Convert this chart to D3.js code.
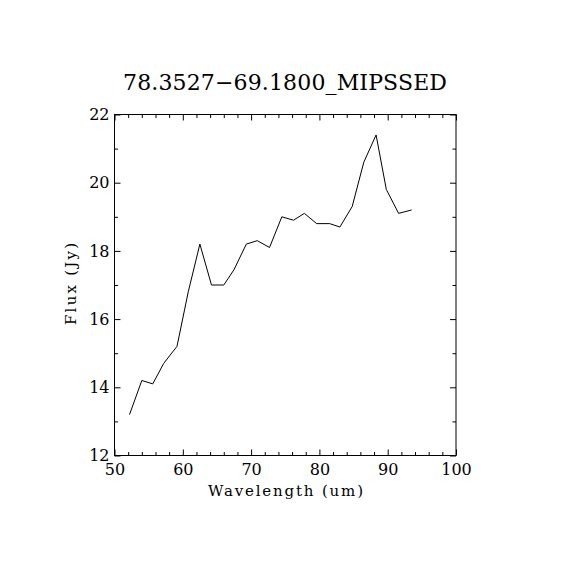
<!DOCTYPE html>
<html>
<head>
<meta charset="utf-8">
<script src="https://cdn.jsdelivr.net/npm/d3@7"></script>
<style>
  body { margin: 0; background: white; }
  text { font-family: "DejaVu Serif", "Liberation Serif", serif; fill: black; }
</style>
</head>
<body>
<div id="chart"></div>
<script>
// Data
const wavelength = [52.2, 54.0, 55.6, 57.2, 59.15, 60.8, 62.5, 64.2, 66.0, 67.5,
    69.3, 70.9, 72.7, 74.5, 76.2, 77.8, 79.6, 81.5, 83.0, 84.8,
    86.5, 88.3, 89.8, 91.6, 93.5];
const flux = [13.2, 14.2, 14.1, 14.7, 15.2, 16.8, 18.2, 17.0, 17.0, 17.45,
    18.2, 18.3, 18.1, 19.0, 18.9, 19.1, 18.8, 18.8, 18.7, 19.3,
    20.6, 21.4, 19.8, 19.1, 19.2];

const xMajor = [50, 60, 70, 80, 90, 100];
const xMinor = [52, 54, 56, 58, 62, 64, 66, 68, 72, 74, 76, 78, 82, 84, 86, 88, 92, 94, 96, 98];
const yMajor = [12, 14, 16, 18, 20, 22];
const yMinor = [13, 15, 17, 19, 21];

const titleText = "78.3527\u221269.1800_MIPSSED";
const xLabel = "Wavelength (um)";
const yLabel = "Flux (Jy)";

let width = 570,
    height = 570;

let margin = { top: 114.5, left: 114.5, right: 114.5, bottom: 114.5 };

let svg = d3.select('#chart')
    .append('svg')
    .attr('width', width)
    .attr('height', height);

let xScale = d3.scaleLinear()
    .domain([50, 100])
    .range([margin.left, width - margin.right + 0.5]);

let yScale = d3.scaleLinear()
    .domain([12, 22])
    .range([height - margin.bottom, margin.top]);

const x0 = xScale.range()[0], x1 = xScale.range()[1];
const y0 = yScale.range()[0], y1 = yScale.range()[1];

// helper to draw one axis, ticks pointing inward
function drawAxis(axis, transform, labels) {
    const g = svg.append('g')
        .attr('transform', transform)
        .call(axis);
    g.select('.domain').remove();
    g.selectAll('line').attr('stroke', 'black').attr('stroke-width', 1);
    g.selectAll('text')
        .style('font-family', '"DejaVu Serif", "Liberation Serif", serif')
        .style('font-size', '16px')
        .attr('fill', 'black');
    if (!labels) g.selectAll('text').remove();
    return g;
}

// bottom
drawAxis(d3.axisBottom(xScale).tickValues(xMajor).tickSize(-6).tickPadding(8.5).tickFormat(d3.format('d')),
    `translate(0,${y0})`, true);
drawAxis(d3.axisBottom(xScale).tickValues(xMinor).tickSize(-3.5).tickFormat(''),
    `translate(0,${y0})`, false);
// top
drawAxis(d3.axisTop(xScale).tickValues(xMajor).tickSize(-6),
    `translate(0,${y1})`, false);
drawAxis(d3.axisTop(xScale).tickValues(xMinor).tickSize(-3.5),
    `translate(0,${y1})`, false);
// left
drawAxis(d3.axisLeft(yScale).tickValues(yMajor).tickSize(-6).tickPadding(5).tickFormat(d3.format('d')),
    `translate(${x0},0)`, true);
drawAxis(d3.axisLeft(yScale).tickValues(yMinor).tickSize(-3.5).tickFormat(''),
    `translate(${x0},0)`, false);
// right
drawAxis(d3.axisRight(yScale).tickValues(yMajor).tickSize(-6),
    `translate(${x1},0)`, false);
drawAxis(d3.axisRight(yScale).tickValues(yMinor).tickSize(-3.5),
    `translate(${x1},0)`, false);

// frame
svg.append('rect')
    .attr('x', x0)
    .attr('y', y1)
    .attr('width', x1 - x0)
    .attr('height', y0 - y1)
    .attr('fill', 'none')
    .attr('stroke', 'black')
    .attr('stroke-width', 1);

// spectrum line
const points = wavelength.map((w, i) => [w, flux[i]]);
const line = d3.line()
    .x(d => xScale(d[0]))
    .y(d => yScale(d[1]));

svg.append('path')
    .datum(points)
    .attr('d', line)
    .attr('fill', 'none')
    .attr('stroke', 'black')
    .attr('stroke-width', 1);

// title
svg.append('text')
    .attr('x', 285)
    .attr('y', 90)
    .text(titleText)
    .style('font-size', '22px')
    .attr('textLength', 324)
    .attr('lengthAdjust', 'spacing')
    .style('text-anchor', 'middle');

// x-axis label
svg.append('text')
    .attr('x', 285.5)
    .attr('y', 496)
    .text(xLabel)
    .style('font-size', '15px')
    .attr('textLength', 155)
    .attr('lengthAdjust', 'spacing')
    .style('text-anchor', 'middle');

// y-axis label
svg.append('text')
    .attr('x', -284)
    .attr('y', 76)
    .attr('transform', 'rotate(-90)')
    .text(yLabel)
    .style('font-size', '15px')
    .attr('textLength', 82)
    .attr('lengthAdjust', 'spacing')
    .style('text-anchor', 'middle');
</script>
</body>
</html>
